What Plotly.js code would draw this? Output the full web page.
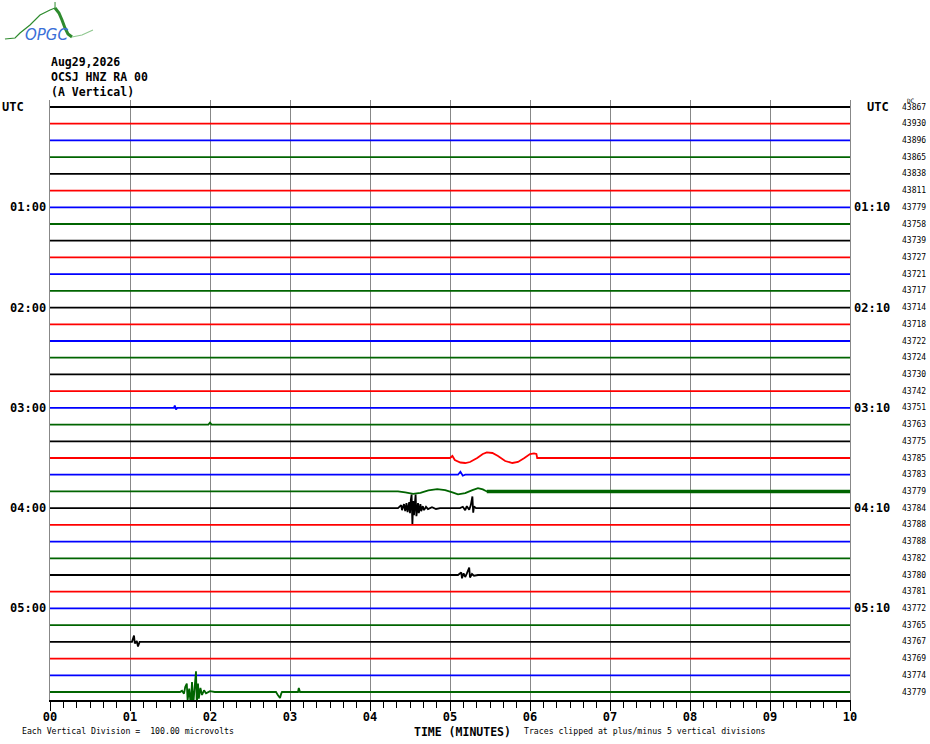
<!DOCTYPE html>
<html>
<head>
<meta charset="utf-8">
<script src="https://cdn.plot.ly/plotly-3.0.1.min.js"></script>
<style>html,body{margin:0;padding:0;background:#fff;}#chart{width:930px;height:744px;}</style>
</head>
<body>
<div id="chart"></div>
<script>
// ---------- data ----------
const traceColors = ['#000000', '#ff0000', '#0000ff', '#006400'];
const dcValues = [43867, 43930, 43896, 43865, 43838, 43811, 43779, 43758, 43739, 43727, 43721, 43717,
  43714, 43718, 43722, 43724, 43730, 43742, 43751, 43763, 43775, 43785, 43783, 43779,
  43784, 43788, 43788, 43782, 43780, 43781, 43772, 43765, 43767, 43769, 43774, 43779];
const hourRows = [0, 6, 12, 18, 24, 30];
const leftLabels = ['UTC', '01:00', '02:00', '03:00', '04:00', '05:00'];
const rightLabels = ['UTC', '01:10', '02:10', '03:10', '04:10', '05:10'];
const xTickVals = [0, 1, 2, 3, 4, 5, 6, 7, 8, 9, 10];
const xTickText = ['00', '01', '02', '03', '04', '05', '06', '07', '08', '09', '10'];
const uvPerDivision = 100;

// events: time (minutes) and amplitude (microvolts)
const redWaveT = [5.0, 5.03, 5.06, 5.13, 5.19, 5.25, 5.34, 5.41, 5.46, 5.53, 5.6, 5.69, 5.78, 5.85, 5.93, 6.0, 6.05, 6.08, 6.09];
const redWaveUV = [0, 12, -12, -27, -30, -24, 0, 24, 34, 30, 12, -18, -30, -24, 0, 24, 28, 24, 0];

const greenWaveT = [4.35, 4.44, 4.54, 4.63, 4.73, 4.84, 4.94, 5.03, 5.1, 5.19, 5.28, 5.35, 5.41, 5.46];
const greenWaveUV = [0, -6, -14, -8, 6, 14, 8, -6, -18, -10, 8, 20, 12, 0];
const greenNoisyT = [5.46, 10];

const quakeAT = [4.35, 4.39, 4.40, 4.425, 4.44, 4.456, 4.47, 4.49, 4.50, 4.51, 4.52, 4.53, 4.54, 4.55, 4.57, 4.58, 4.60, 4.61, 4.63, 4.64, 4.66, 4.675, 4.70, 4.725, 4.775, 4.825, 4.875,
  5.125, 5.16, 5.19, 5.21, 5.24, 5.26, 5.28, 5.29, 5.30, 5.325];
const quakeAUV = [0, 18, -12, 24, -18, 30, -24, 36, -30, 48, 81, -99, 42, -42, 81, -48, 30, -30, 24, -18, 12, -12, 8, -6, 6, -5, 0,
  0, 8, -12, 12, -10, 18, 70, -27, 10, 0];

const burstBT = [5.10, 5.14, 5.15, 5.17, 5.19, 5.21, 5.24, 5.25, 5.275, 5.30, 5.35];
const burstBUV = [0, 15, -20, 10, -12, 8, 45, -15, 6, -4, 0];

const spikeCT = [1.025, 1.05, 1.06, 1.085, 1.10, 1.12];
const spikeCUV = [0, 38, -10, 5, -28, 0];

const quakeDT = [1.625, 1.65, 1.675, 1.69, 1.71, 1.72, 1.74, 1.76, 1.775, 1.79, 1.81, 1.825, 1.835, 1.85, 1.86, 1.88, 1.90, 1.925, 1.95, 2.0, 2.06,
  2.825, 2.85, 2.875, 2.89, 2.90, 3.10, 3.11, 3.125];
const quakeDUV = [0, 8, -10, 30, 50, -50, 20, -80, 60, -80, 40, 124, -80, 50, -40, 24, -18, 10, -8, 5, 0,
  0, -20, -36, -10, 0, 0, 24, 0];

const blipET = [1.55, 1.56, 1.575, 1.59];
const blipEUV = [0, 14, -10, 0];
const blipFT = [1.98, 2.0, 2.02];
const blipFUV = [0, 12, 0];
const blipGT = [5.1, 5.13, 5.16, 5.19];
const blipGUV = [0, 18, -6, 0];

const rowEvents = [
  {row: 21, t: redWaveT, uv: redWaveUV},
  {row: 23, t: greenWaveT, uv: greenWaveUV},
  {row: 24, t: quakeAT, uv: quakeAUV},
  {row: 28, t: burstBT, uv: burstBUV},
  {row: 32, t: spikeCT, uv: spikeCUV},
  {row: 35, t: quakeDT, uv: quakeDUV},
  {row: 18, t: blipET, uv: blipEUV},
  {row: 19, t: blipFT, uv: blipFUV},
  {row: 22, t: blipGT, uv: blipGUV}
];

// ---------- traces ----------
const nRows = dcValues.length;
const data = [];
for (let i = 0; i < nRows; i++) {
  let pts = [[0, 0], [10, 0]];
  rowEvents.filter(e => e.row === i).forEach(e => {
    e.t.forEach((t, k) => pts.push([t, e.uv[k]]));
  });
  pts.sort((a, b) => a[0] - b[0]);
  data.push({
    type: 'scatter', mode: 'lines',
    x: pts.map(p => p[0]),
    y: pts.map(p => i - p[1] / uvPerDivision),
    line: {color: traceColors[i % 4], width: 1.8, simplify: false},
    hoverinfo: 'skip', showlegend: false
  });
}
data.push({
  type: 'scatter', mode: 'lines',
  x: greenNoisyT, y: greenNoisyT.map(() => 23),
  line: {color: traceColors[23 % 4], width: 3.5},
  hoverinfo: 'skip', showlegend: false
});

// ---------- layout helpers ----------
const PL = 50, PR = 850, PT = 100, PB = 700;
const px2paperX = px => (px - PL) / (PR - PL);
const px2paperY = py => (PB - py) / (PB - PT);
const mono = 'DejaVu Sans Mono, Liberation Mono, monospace';

const annotations = [];
hourRows.forEach((r, k) => {
  annotations.push({
    xref: 'paper', yref: 'y', x: k === 0 ? px2paperX(0) : px2paperX(48), y: r,
    xanchor: k === 0 ? 'left' : 'right', yanchor: 'middle', showarrow: false,
    text: leftLabels[k], font: {family: mono, size: 12, color: '#000', weight: 'bold'}
  });
  annotations.push({
    xref: 'paper', yref: 'y', x: k === 0 ? px2paperX(865) : px2paperX(852), y: r,
    xanchor: 'left', yanchor: 'middle', showarrow: false,
    text: rightLabels[k], font: {family: mono, size: 12, color: '#000', weight: 'bold'}
  });
});
dcValues.forEach((v, i) => {
  annotations.push({
    xref: 'paper', yref: 'y', x: px2paperX(900), y: i,
    xanchor: 'left', yanchor: 'middle', showarrow: false,
    text: String(v), font: {family: mono, size: 8, color: '#000'}
  });
});
annotations.push({xref: 'paper', yref: 'paper', x: px2paperX(905), y: px2paperY(100),
  xanchor: 'left', yanchor: 'middle', showarrow: false, text: 'DC',
  font: {family: mono, size: 6, color: '#000'}});
const headerLines = ['Aug29,2026', 'OCSJ HNZ RA 00', '(A Vertical)'];
const headerY = [62, 77, 92];
headerLines.forEach((t, k) => annotations.push({
  xref: 'paper', yref: 'paper', x: px2paperX(49), y: px2paperY(headerY[k]),
  xanchor: 'left', yanchor: 'middle', showarrow: false, text: t,
  font: {family: mono, size: 11.5, color: '#000', weight: 'bold'}
}));
annotations.push({xref: 'paper', yref: 'paper', x: px2paperX(462), y: px2paperY(732),
  xanchor: 'center', yanchor: 'middle', showarrow: false, text: 'TIME (MINUTES)',
  font: {family: mono, size: 11.5, color: '#000', weight: 'bold'}});
annotations.push({xref: 'paper', yref: 'paper', x: px2paperX(20), y: px2paperY(731),
  xanchor: 'left', yanchor: 'middle', showarrow: false,
  text: 'Each Vertical Division =  100.00 microvolts'.replace(/ /g, '&nbsp;'),
  font: {family: mono, size: 8.2, color: '#000'}});
annotations.push({xref: 'paper', yref: 'paper', x: px2paperX(522), y: px2paperY(731),
  xanchor: 'left', yanchor: 'middle', showarrow: false,
  text: 'Traces clipped at plus/minus 5 vertical divisions',
  font: {family: mono, size: 8.2, color: '#000'}});
annotations.push({xref: 'paper', yref: 'paper', x: px2paperX(23), y: px2paperY(35),
  xanchor: 'left', yanchor: 'middle', showarrow: false, text: 'OPGC',
  font: {family: 'DejaVu Sans, sans-serif', size: 15, color: '#3a6fd8', style: 'italic'}});

// logo curve (pixel coordinates converted to paper)
const logoThin = [[5, 39], [15, 38], [20, 33], [30, 25], [40, 15], [50, 10], [55, 8]];
const logoThick = [[55, 8], [59, 13], [62, 20], [65, 28], [68, 34], [72, 37]];
const logoTail = [[72, 37], [82, 35], [93, 30]];
const pathOf = pts => pts.map((p, k) => (k ? 'L' : 'M') + px2paperX(p[0]).toFixed(4) + ',' + px2paperY(p[1]).toFixed(4)).join(' ');
const shapes = [
  {type: 'path', xref: 'paper', yref: 'paper', path: pathOf(logoThin), line: {color: '#2e8b2e', width: 1.2}},
  {type: 'path', xref: 'paper', yref: 'paper', path: pathOf(logoThick), line: {color: '#2e8b2e', width: 3}},
  {type: 'path', xref: 'paper', yref: 'paper', path: pathOf(logoTail), line: {color: '#8fc78f', width: 1.2}},
  {type: 'path', xref: 'paper', yref: 'paper', path: pathOf([[55, 2], [55, 9]]), line: {color: '#2e8b2e', width: 1}}
];

const layout = {
  width: 930, height: 744,
  margin: {l: PL, r: 930 - PR, t: PT, b: 744 - PB, pad: 0},
  paper_bgcolor: '#fff', plot_bgcolor: '#fff',
  showlegend: false,
  xaxis: {
    range: [0, 10], tickvals: xTickVals, ticktext: xTickText,
    ticks: 'outside', ticklen: 9, tickwidth: 1, tickcolor: '#000',
    ticklabelstandoff: -4,
    showline: true, linecolor: '#000', linewidth: 1.5,
    showgrid: true, gridcolor: '#888', gridwidth: 1, zeroline: false,
    tickfont: {family: mono, size: 12, color: '#000', weight: 'bold'},
    minor: {dtick: 1 / 6, tick0: 0, ticks: 'outside', ticklen: 6, tickcolor: '#000', tickwidth: 1, showgrid: false},
    fixedrange: true
  },
  yaxis: {
    range: [35 + 8 / 16.714, -7 / 16.714],
    showline: true, linecolor: '#888', linewidth: 1, mirror: true,
    showticklabels: false, showgrid: false, zeroline: false, ticks: '',
    fixedrange: true
  },
  annotations: annotations,
  shapes: shapes
};

Plotly.newPlot('chart', data, layout, {displayModeBar: false, staticPlot: true});
</script>
</body>
</html>
